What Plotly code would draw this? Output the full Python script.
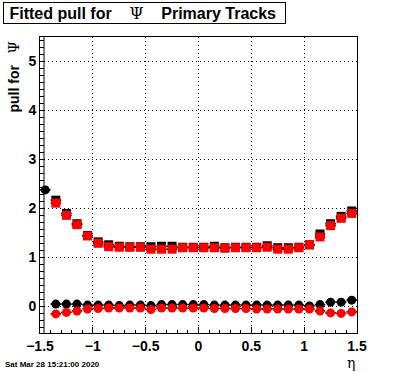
import plotly.graph_objects as go

eta = [round(-1.45 + 0.1 * i, 2) for i in range(30)]

sigma_black = [None, 2.17, 1.90, 1.69, 1.45, 1.32, 1.26, 1.23, 1.22, 1.22,
               1.22, 1.23, 1.23, 1.21, 1.21, 1.21, 1.23, 1.20, 1.21, 1.21,
               1.21, 1.24, 1.20, 1.20, 1.21, 1.26, 1.48, 1.69, 1.84, 1.95]
sigma_red = [None, 2.11, 1.86, 1.67, 1.44, 1.29, 1.22, 1.21, 1.21, 1.21,
             1.17, 1.17, 1.17, 1.20, 1.20, 1.20, 1.20, 1.19, 1.20, 1.20,
             1.20, 1.21, 1.17, 1.17, 1.20, 1.26, 1.42, 1.65, 1.80, 1.90]
mean_black = [2.38, 0.05, 0.05, 0.05, 0.03, 0.03, 0.03, 0.02, 0.03, 0.03,
              0.02, 0.04, 0.04, 0.04, 0.04, 0.04, 0.03, 0.03, 0.03, 0.03,
              0.03, 0.03, 0.03, 0.03, 0.03, 0.01, 0.04, 0.09, 0.09, 0.13]
mean_red = [None, -0.15, -0.12, -0.09, -0.05, -0.04, -0.03, -0.03, -0.03, -0.03,
            -0.06, -0.03, -0.03, -0.03, -0.03, -0.03, -0.04, -0.04, -0.04, -0.04,
            -0.05, -0.05, -0.05, -0.05, -0.05, -0.05, -0.09, -0.13, -0.14, -0.11]

x_ticks = [-1.5, -1, -0.5, 0, 0.5, 1, 1.5]
x_labels = ["\u22121.5", "\u22121", "\u22120.5", "0", "0.5", "1", "1.5"]
y_ticks = [0, 1, 2, 3, 4, 5]

W, H = 396, 372
L, R, T, B = 40, 39, 37, 39
PW, PH = W - L - R, H - T - B

FONT = "Liberation Sans, Arial, Helvetica, sans-serif"
SERIF = "DejaVu Serif, Liberation Serif, serif"

fig = go.Figure()

def add(y, color, symbol):
    fig.add_trace(go.Scatter(
        x=eta, y=y, mode="markers",
        marker=dict(color=color, symbol=symbol, size=9, line=dict(width=0)),
        error_x=dict(type="constant", value=0.05, color="black", thickness=1.5, width=0),
        showlegend=False, cliponaxis=True, hoverinfo="skip",
    ))

add(sigma_black, "black", "square")
add(sigma_red, "#ff0000", "square")
add(mean_black, "black", "circle")
add(mean_red, "#ff0000", "circle")

GRID_DASH = "1px,3px"

fig.update_xaxes(
    range=[-1.5, 1.5], tickvals=x_ticks, ticktext=x_labels,
    showline=True, linecolor="black", linewidth=1, mirror=True,
    ticks="inside", ticklen=6, tickcolor="black",
    minor=dict(dtick=0.1, tick0=-1.5, ticks="inside", ticklen=3, tickcolor="black", showgrid=False),
    showgrid=True, griddash=GRID_DASH, gridcolor="black", gridwidth=1,
    zeroline=False, tickfont=dict(family=FONT, size=14, color="black", weight="bold"),
)
fig.update_yaxes(
    range=[-0.54, 5.5], tickvals=y_ticks,
    showline=True, linecolor="black", linewidth=1, mirror=True,
    ticks="inside", ticklen=4, tickcolor="black",
    minor=dict(dtick=1 / 7, tick0=0, ticks="inside", ticklen=4, tickcolor="black", showgrid=False),
    showgrid=True, griddash=GRID_DASH, gridcolor="black", gridwidth=1,
    zeroline=False, tickfont=dict(family=FONT, size=14, color="black", weight="bold"),
)

fig.add_shape(type="line", xref="x domain", yref="y domain", x0=4 / PW, x1=4 / PW, y0=0, y1=1,
              line=dict(color="black", width=1))

nb = "\u00a0"
fig.add_annotation(
    xref="paper", yref="paper", x=(3 - L) / PW, y=(H - B - 2) / PH,
    xanchor="left", yanchor="top", align="left",
    text=f"{nb}<b>Fitted pull for</b>{nb*4}<span style='font-family:{SERIF};font-weight:normal'>\u03a8</span>{nb*4}<b>Primary Tracks</b>",
    font=dict(family=FONT, size=16, color="black"),
    showarrow=False, bordercolor="black", borderwidth=1, borderpad=1,
    width=279, height=18, bgcolor="white",
)
fig.add_annotation(
    xref="paper", yref="paper", x=(14 - L) / PW, y=(H - B - 40) / PH,
    xanchor="center", yanchor="top", textangle=-90,
    text=f"<b>pull for</b>{nb*3}<span style='font-family:{SERIF};font-weight:normal'>\u03a8</span>",
    font=dict(family=FONT, size=14, color="black"),
    showarrow=False,
)
fig.add_annotation(
    xref="paper", yref="paper", x=(351 - L) / PW, y=(H - B - 363) / PH,
    xanchor="center", yanchor="middle",
    text="\u03b7", font=dict(family=SERIF, size=14, color="black"), showarrow=False,
)
fig.add_annotation(
    xref="paper", yref="paper", x=(3 - L) / PW, y=(H - B - 364) / PH,
    xanchor="left", yanchor="middle",
    text="<b>Sat Mar 28 15:21:00 2020</b>", font=dict(family=FONT, size=8, color="black"), showarrow=False,
)

fig.update_layout(
    width=W, height=H, margin=dict(l=L, r=R, t=T, b=B),
    paper_bgcolor="white", plot_bgcolor="white", hovermode=False,
)

fig.write_html("out.html", config={"displayModeBar": False},
               post_script="document.body.style.margin='0';document.body.style.padding='0';")
